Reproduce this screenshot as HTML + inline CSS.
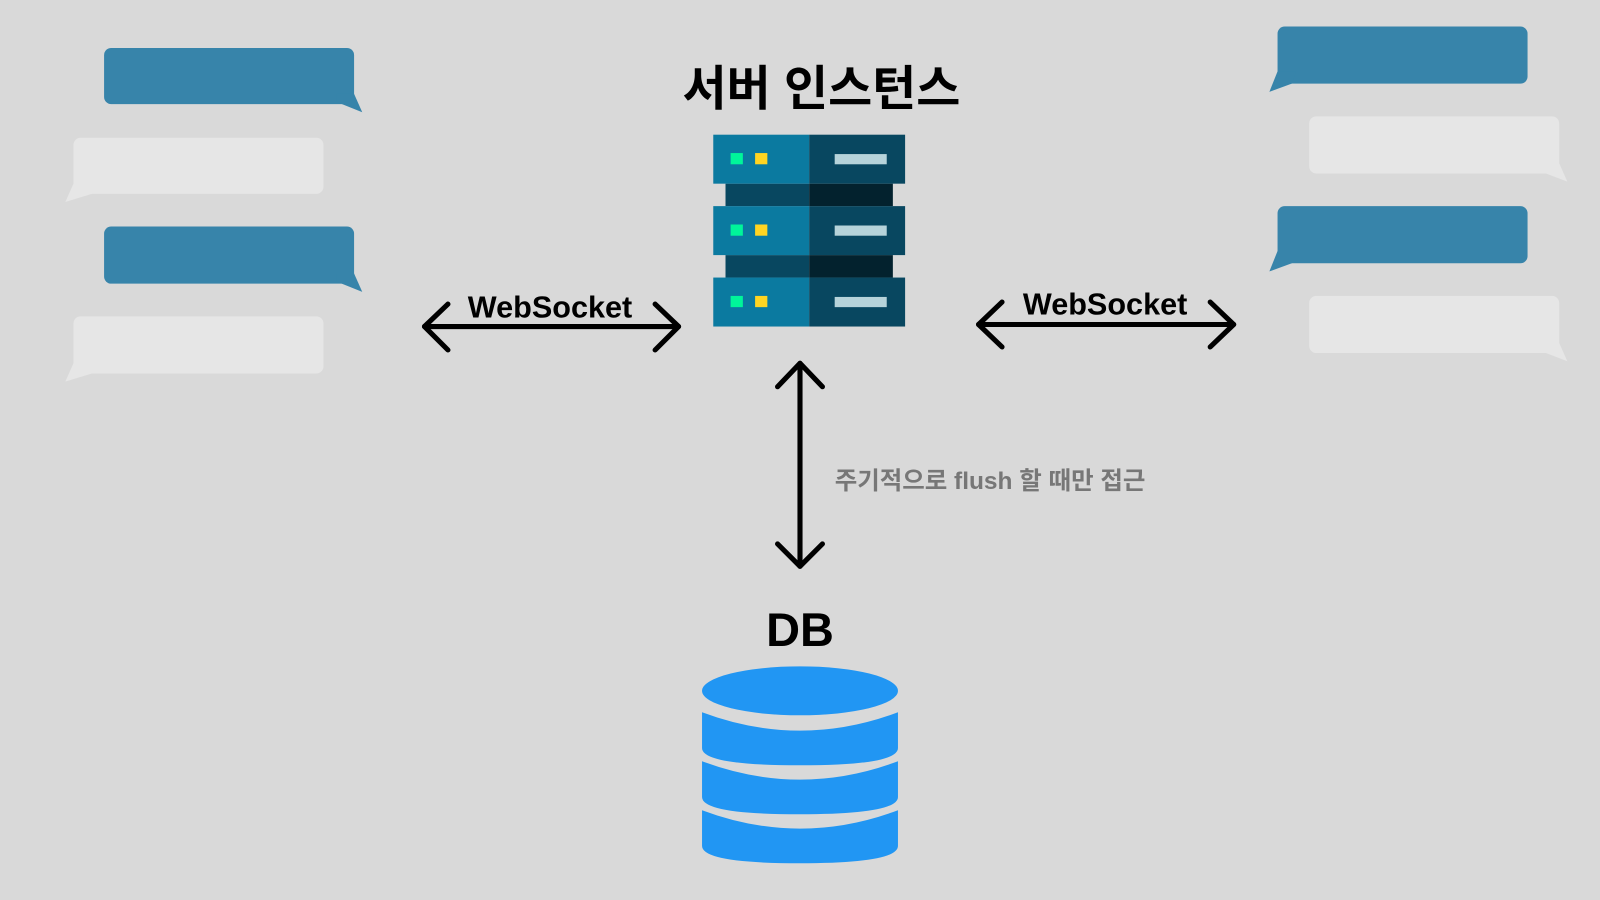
<!DOCTYPE html>
<html><head><meta charset="utf-8"><style>
html,body{margin:0;padding:0;background:#d9d9d9;}
svg{display:block;}
text{font-family:"Liberation Sans","Noto Sans CJK KR",sans-serif;font-weight:bold;}
</style></head><body>
<svg width="1600" height="900" viewBox="0 0 1568 882" preserveAspectRatio="none" xmlns="http://www.w3.org/2000/svg">
<rect width="1568" height="882" fill="#d9d9d9"/>
<g fill="#3784aa">
<rect x="102" y="47" width="245" height="55" rx="7"/><polygon points="330,92 347,92 355,110 330,100"/>
<rect x="102" y="222" width="245" height="56" rx="7"/><polygon points="330,268 347,268 355,286 330,276"/>
</g>
<g fill="#e6e6e6">
<rect x="72" y="135" width="245" height="55" rx="7"/><polygon points="72,180 90,180 90,190 64,198"/>
<rect x="72" y="310" width="245" height="56" rx="7"/><polygon points="72,356 90,356 90,366 64,374"/>
</g>
<g fill="#3784aa">
<rect x="1252" y="26" width="245" height="56" rx="7"/><polygon points="1252,70 1270,70 1266,82 1244,90"/>
<rect x="1252" y="202" width="245" height="56" rx="7"/><polygon points="1252,246 1270,246 1266,258 1244,266"/>
</g>
<g fill="#e6e6e6">
<rect x="1283" y="114" width="245" height="56" rx="7"/><polygon points="1510,160 1528,160 1536,178 1515,170"/>
<rect x="1283" y="290" width="245" height="56" rx="7"/><polygon points="1510,336 1528,336 1536,354 1515,346"/>
</g>
<text x="805" y="103" font-size="47" text-anchor="middle" fill="#000">서버 인스턴스</text>
<g>
<rect x="711" y="180" width="82" height="22" fill="#084760"/><rect x="793" y="180" width="82" height="22" fill="#03222e"/>
<rect x="711" y="250" width="82" height="22" fill="#084760"/><rect x="793" y="250" width="82" height="22" fill="#03222e"/>
<g id="u">
<rect x="699" y="132" width="94" height="48" fill="#0b7aa0"/><rect x="793" y="132" width="94" height="48" fill="#084760"/>
<rect x="716" y="150" width="12" height="11" fill="#00f59a"/><rect x="740" y="150" width="12" height="11" fill="#ffd522"/>
<rect x="818" y="151" width="51" height="10" fill="#b6d3da"/>
</g>
<use href="#u" y="70"/><use href="#u" y="140"/>
</g>
<g stroke="#000" stroke-width="5" fill="none" stroke-linecap="round" stroke-linejoin="round">
<line x1="416" y1="320" x2="665" y2="320"/><polyline points="439,298 416,320 439,343"/><polyline points="642,298 665,320 642,343"/>
<line x1="959" y1="318" x2="1209" y2="318"/><polyline points="982,296 959,318 982,340"/><polyline points="1186,296 1209,318 1186,340"/>
<line x1="784" y1="356" x2="784" y2="555"/><polyline points="762,379 784,356 806,379"/><polyline points="762,533 784,555 806,533"/>
</g>
<text x="539" y="311" font-size="30" text-anchor="middle" fill="#000">WebSocket</text>
<text x="1083" y="308" font-size="30" text-anchor="middle" fill="#000">WebSocket</text>
<text x="818" y="479" font-size="24" fill="#777">주기적으로 flush 할 때만 접근</text>
<text x="784" y="633" font-size="46" text-anchor="middle" fill="#000">DB</text>
<g fill="#2196f3">
<ellipse cx="784" cy="677" rx="96" ry="24"/>
<path d="M688,698 Q784,734 880,698 L880,733 Q880,750 784,750 Q688,750 688,733 Z"/>
<path d="M688,746 Q784,782 880,746 L880,781 Q880,798 784,798 Q688,798 688,781 Z"/>
<path d="M688,794 Q784,830 880,794 L880,829 Q880,846 784,846 Q688,846 688,829 Z"/>
</g>
</svg>
</body></html>
